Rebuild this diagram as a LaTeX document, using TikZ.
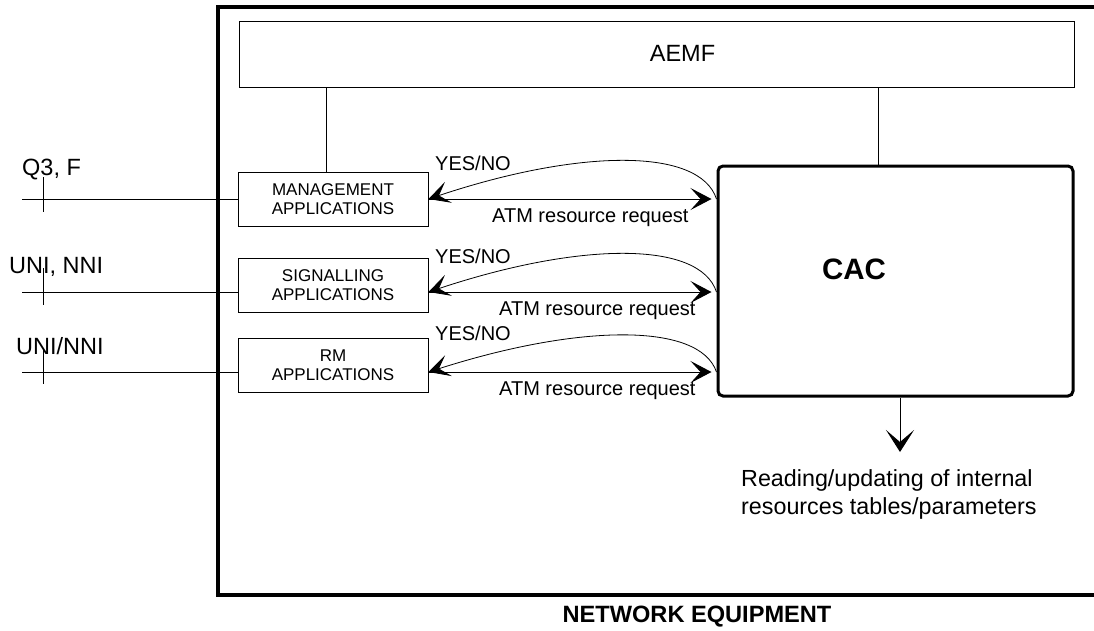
\documentclass[tikz,border=0pt]{standalone}
\usepackage{fontspec}
\setmainfont{Liberation Sans}
\usetikzlibrary{arrows.meta}

\tikzset{
  appbox/.style={draw,line width=1pt,minimum width=190pt,minimum height=54pt,inner sep=0pt,align=center,font=\fontsize{17}{19}\selectfont},
  portlbl/.style={anchor=base west,inner sep=0pt,font=\fontsize{23.5}{28}\selectfont},
  msglbl/.style={anchor=base west,inner sep=0pt,font=\fontsize{20}{24}\selectfont},
  reqarrow/.style={line width=1pt,-{Stealth[length=21pt,width=22pt,inset=10pt]}},
  downarrow/.style={line width=1pt,-{Stealth[length=22pt,width=28pt,inset=12pt]}}
}

\begin{document}
\begin{tikzpicture}[x=1pt,y=-1pt]
        \useasboundingbox (0,0) rectangle (1094,630);
        \draw[line width=3.3pt] (1100,7) -| (218,595) -- (1100,595);
        \node[draw,line width=1pt,minimum width=835pt,minimum height=66pt,
              label={[font=\fontsize{23.5}{28}\selectfont,xshift=26pt,yshift=1pt]center:AEMF}] (aemf) at (656.5,54) {};
        \node[appbox] (mgmt) at (333,199) {MANAGEMENT\\APPLICATIONS};
        \node[appbox] (sig) at (333,285) {SIGNALLING\\APPLICATIONS};
        \node[appbox] (rm) at (333,365) {RM\\APPLICATIONS};
        \node[draw,line width=3pt,rounded corners=5pt,minimum width=355pt,minimum height=230pt,
              label={[font=\fontsize{29.5}{34}\selectfont\bfseries,xshift=-41.5pt,yshift=12pt]center:CAC}] (cac) at (895.5,281) {};
        \coordinate (q3) at (22,199);
        \coordinate (uni) at (22,292);
        \coordinate (uninni) at (22,372);
        \coordinate (readtip) at (900,452);
        \draw[line width=1pt] (aemf.south -| 326,0) -- (mgmt.north -| 326,0);
        \draw[line width=1pt] (aemf.south -| 878,0) -- (cac.north -| 878,0);
        \draw[line width=1pt] (q3) -- (mgmt.west);
        \draw[line width=1pt] (uni) -- (sig.west |- uni);
        \draw[line width=1pt] (uninni) -- (rm.west |- uninni);
        \draw[line width=1pt] (43,177) -- (43,212);
        \draw[line width=1pt] (43,268) -- (43,305);
        \draw[line width=1pt] (43,350) -- (43,384);
        \node[portlbl] (q3lbl) at (22,175.5) {Q3, F};
        \node[portlbl] (unilbl) at (9,273.5) {UNI, NNI};
        \node[portlbl] (uninnilbl) at (16,354.5) {UNI/NNI};
        \draw[reqarrow] (mgmt.east) -- ([xshift=-5pt]cac.west |- mgmt.east);
        \draw[reqarrow] (sig.east |- uni) -- ([xshift=-5pt]cac.west |- uni);
        \draw[reqarrow] (rm.east |- uninni) -- ([xshift=-5pt]cac.west |- uninni);
        \draw[reqarrow,line width=0.8pt] (cac.west |- mgmt.east) .. controls +(-17,-52) and +(150,-50) .. (mgmt.east);
        \draw[reqarrow,line width=0.8pt] (cac.west |- uni) .. controls +(-17,-52) and +(150,-50) .. (sig.east |- uni);
        \draw[reqarrow,line width=0.8pt] (cac.west |- uninni) .. controls +(-17,-50) and +(150,-48) .. (rm.east |- uninni);
        \node[msglbl] (yes1) at (435,170) {YES/NO};
        \node[msglbl] (yes2) at (435,263) {YES/NO};
        \node[msglbl] (yes3) at (435,340) {YES/NO};
        \node[msglbl] (req1) at (492,222) {ATM resource request};
        \node[msglbl] (req2) at (499,315) {ATM resource request};
        \node[msglbl] (req3) at (499,395) {ATM resource request};
        \draw[downarrow] (cac.south -| readtip) -- (readtip);
        \node[anchor=north west,inner sep=0pt,align=left,font=\fontsize{23.3}{28}\selectfont] (read) at (741,469)
              {Reading/updating of internal\\resources tables/parameters};
        \node[font=\fontsize{23.6}{28}\selectfont\bfseries] (neteq) at (697,617) {NETWORK EQUIPMENT};
\end{tikzpicture}
\end{document}
